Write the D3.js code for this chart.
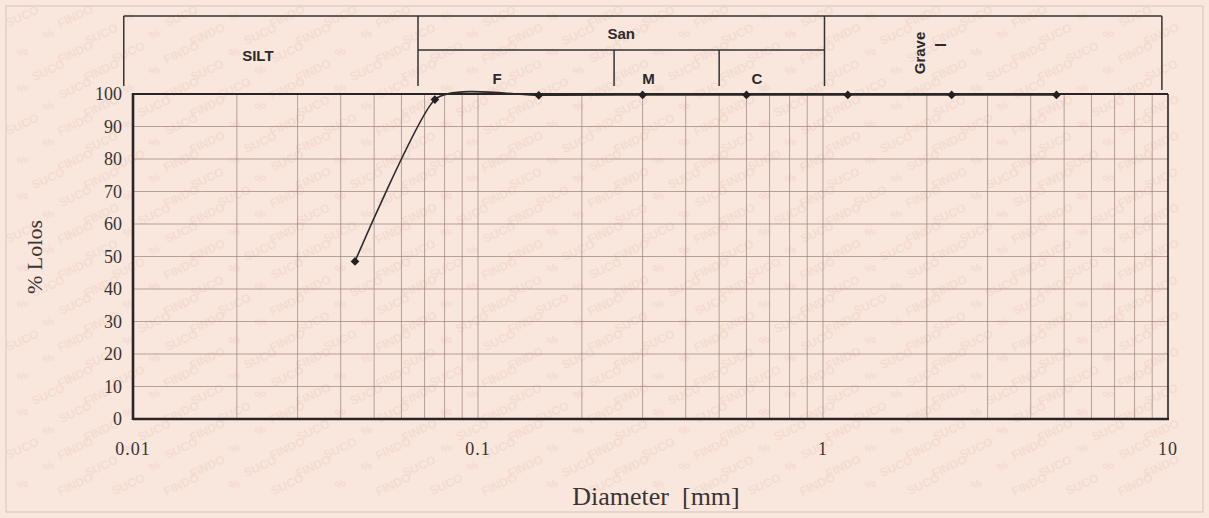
<!DOCTYPE html>
<html>
<head>
<meta charset="utf-8">
<script src="https://cdn.jsdelivr.net/npm/d3@7"></script>
<style>
  html, body { margin: 0; padding: 0; background: #f9e7de; }
  svg { display: block; }
</style>
</head>
<body>
<div id="chart"></div>
<script>
// sieve data (diameter mm, % passing)
let diameters = [0.044, 0.075, 0.15, 0.3, 0.6, 1.18, 2.36, 4.75];
let passing = [48.5, 98.3, 99.6, 99.7, 99.7, 99.7, 99.7, 99.7];

let yTicks = [0, 10, 20, 30, 40, 50, 60, 70, 80, 90, 100];
let xTicks = [0.01, 0.1, 1, 10];
let xTickLabels = ["0.01", "0.1", "1", "10"];

// header classification boundaries (mm)
let headerBounds = [0.0094, 0.067, 1.01, 9.6];
let sandSplits = [0.248, 0.5];
let sandLabels = ["F", "M", "C"];

// security-paper watermark words
let watermarkWords = ["SUCO", "FINDO", "%", "SUCO", "%", "FINDO"];

let width = 1209, height = 518;

let svg = d3.select("#chart").append("svg")
    .attr("width", width)
    .attr("height", height);

svg.append("rect")
    .attr("width", width).attr("height", height)
    .attr("fill", "#f9e7de");

// faint dense watermark, kept fully inside the page
let wmCells = [];
for (let r = 0; r < 28; r++) {
    for (let c = 0; c < 23; c++) {
        let x = 24 + c * 53 + (r % 2) * 26;
        let y = 20 + r * 18;
        if (x < 1186 && y < 506) {
            wmCells.push({ x: x, y: y, w: watermarkWords[(r * 2 + c) % watermarkWords.length] });
        }
    }
}
svg.append("g").selectAll("text")
    .data(wmCells)
    .join("text")
    .attr("transform", d => "translate(" + d.x + "," + d.y + ") rotate(-25)")
    .attr("text-anchor", "middle")
    .attr("fill", "#f4dbd0")
    .style("font-family", "'Liberation Sans', Arial, sans-serif")
    .style("font-size", "12px")
    .style("font-weight", "bold")
    .text(d => d.w);

// faint outer frame of the scanned page
svg.append("rect")
    .attr("x", 6).attr("y", 6)
    .attr("width", width - 12).attr("height", height - 12)
    .attr("fill", "none")
    .attr("stroke", "#d4c3bc")
    .attr("stroke-width", 1);

let xScale = d3.scaleLog()
    .domain([0.01, 10])
    .range([133, 1168]);

let yScale = d3.scaleLinear()
    .domain([0, 100])
    .range([419, 94]);

let gridColor = "#9c7f7b";

// vertical grid at every minor log tick
let minor = [];
for (let e = -2; e < 1; e++) {
    for (let m = 1; m <= 9; m++) minor.push(m * Math.pow(10, e));
}
svg.append("g").selectAll("line")
    .data(minor)
    .join("line")
    .attr("x1", d => xScale(d)).attr("x2", d => xScale(d))
    .attr("y1", yScale(0)).attr("y2", yScale(100))
    .attr("stroke", gridColor)
    .attr("stroke-width", 0.7);

// horizontal grid
svg.append("g").selectAll("line")
    .data(yTicks)
    .join("line")
    .attr("x1", xScale(0.01)).attr("x2", xScale(10))
    .attr("y1", d => yScale(d)).attr("y2", d => yScale(d))
    .attr("stroke", gridColor)
    .attr("stroke-width", 0.7);

// frame
let frame = "#2a2424";
svg.append("line")
    .attr("x1", xScale(0.01)).attr("x2", xScale(0.01))
    .attr("y1", yScale(100) - 1).attr("y2", yScale(0) + 1)
    .attr("stroke", frame).attr("stroke-width", 2.6);
svg.append("line")
    .attr("x1", xScale(0.01)).attr("x2", xScale(10) + 1)
    .attr("y1", yScale(0)).attr("y2", yScale(0))
    .attr("stroke", frame).attr("stroke-width", 2.6);
svg.append("line")
    .attr("x1", xScale(0.01)).attr("x2", xScale(10))
    .attr("y1", yScale(100)).attr("y2", yScale(100))
    .attr("stroke", frame).attr("stroke-width", 2);
svg.append("line")
    .attr("x1", xScale(10)).attr("x2", xScale(10))
    .attr("y1", yScale(100)).attr("y2", yScale(0))
    .attr("stroke", frame).attr("stroke-width", 1.6);

let serif = "'Liberation Serif', 'Times New Roman', serif";

// y tick labels
svg.append("g").selectAll("text")
    .data(yTicks)
    .join("text")
    .attr("x", 122)
    .attr("y", d => yScale(d) + 6)
    .attr("text-anchor", "end")
    .attr("fill", "#3a3333")
    .style("font-family", serif)
    .style("font-size", "18px")
    .text(d => d);

// x tick labels
svg.append("g").selectAll("text")
    .data(xTicks)
    .join("text")
    .attr("x", d => xScale(d))
    .attr("y", 455)
    .attr("text-anchor", "middle")
    .attr("fill", "#3a3333")
    .style("font-family", serif)
    .style("font-size", "18px")
    .style("letter-spacing", "1px")
    .text((d, i) => xTickLabels[i]);

// axis titles
svg.append("text")
    .attr("transform", "translate(42,257) rotate(-90)")
    .attr("text-anchor", "middle")
    .attr("fill", "#3a3333")
    .style("font-family", serif)
    .style("font-size", "22px")
    .text("% Lolos");

svg.append("text")
    .attr("x", 656)
    .attr("y", 505)
    .attr("text-anchor", "middle")
    .attr("fill", "#3a3333")
    .style("font-family", serif)
    .style("font-size", "26px")
    .style("white-space", "pre")
    .text("Diameter  [mm]");

// header classification table
let hdr = svg.append("g")
    .attr("stroke", "#333")
    .attr("stroke-width", 1.5);
let hTop = 16, hBot = 86, hMid = 50;

hdr.append("line")
    .attr("x1", xScale(headerBounds[0])).attr("x2", xScale(headerBounds[3]))
    .attr("y1", hTop).attr("y2", hTop);
headerBounds.forEach((b, i) => {
    hdr.append("line")
        .attr("x1", xScale(b)).attr("x2", xScale(b))
        .attr("y1", hTop).attr("y2", i === 3 ? 90 : hBot);
});
hdr.append("line")
    .attr("x1", xScale(headerBounds[1])).attr("x2", xScale(headerBounds[2]))
    .attr("y1", hMid).attr("y2", hMid);
sandSplits.forEach(s => {
    hdr.append("line")
        .attr("x1", xScale(s)).attr("x2", xScale(s))
        .attr("y1", hMid).attr("y2", hBot);
});

let hFont = "'Liberation Sans', Arial, sans-serif";
function hText(x, y, t) {
    return svg.append("text")
        .attr("x", x).attr("y", y)
        .attr("text-anchor", "middle")
        .attr("fill", "#2a2a2a")
        .style("font-family", hFont)
        .style("font-size", "15px")
        .style("font-weight", "bold")
        .text(t);
}
hText((xScale(headerBounds[0]) + xScale(headerBounds[1])) / 2 - 13, 61, "SILT");
hText((xScale(headerBounds[1]) + xScale(headerBounds[2])) / 2, 39, "San");
let sandEdges = [headerBounds[1]].concat(sandSplits, [headerBounds[2]]);
sandLabels.forEach((l, i) => {
    let cx = (xScale(sandEdges[i]) + xScale(sandEdges[i + 1])) / 2;
    hText(i === 0 ? cx - 19 : cx + (i === 1 ? -18 : -15), 84, l);
});
let gx = (xScale(headerBounds[2]) + xScale(headerBounds[3])) / 2;
svg.append("text")
    .attr("transform", "translate(" + (gx - 68) + ",53) rotate(-90)")
    .attr("text-anchor", "middle")
    .attr("fill", "#2a2a2a")
    .style("font-family", hFont)
    .style("font-size", "15px")
    .style("font-weight", "bold")
    .text("Grave");
svg.append("text")
    .attr("transform", "translate(" + (gx - 47) + ",45) rotate(-90)")
    .attr("text-anchor", "middle")
    .attr("fill", "#2a2a2a")
    .style("font-family", hFont)
    .style("font-size", "15px")
    .style("font-weight", "bold")
    .text("l");

// smoothed curve
let pts = diameters.map((d, i) => [xScale(d), yScale(passing[i])]);
svg.append("path")
    .datum(pts)
    .attr("fill", "none")
    .attr("stroke", "#2b2b2b")
    .attr("stroke-width", 1.6)
    .attr("d", d3.line().curve(d3.curveCardinal.tension(0.45)));

// diamond markers
svg.append("g").selectAll("path")
    .data(pts)
    .join("path")
    .attr("transform", d => "translate(" + d[0] + "," + d[1] + ") rotate(45)")
    .attr("d", d3.symbol().type(d3.symbolSquare).size(38))
    .attr("fill", "#222");
</script>
</body>
</html>
